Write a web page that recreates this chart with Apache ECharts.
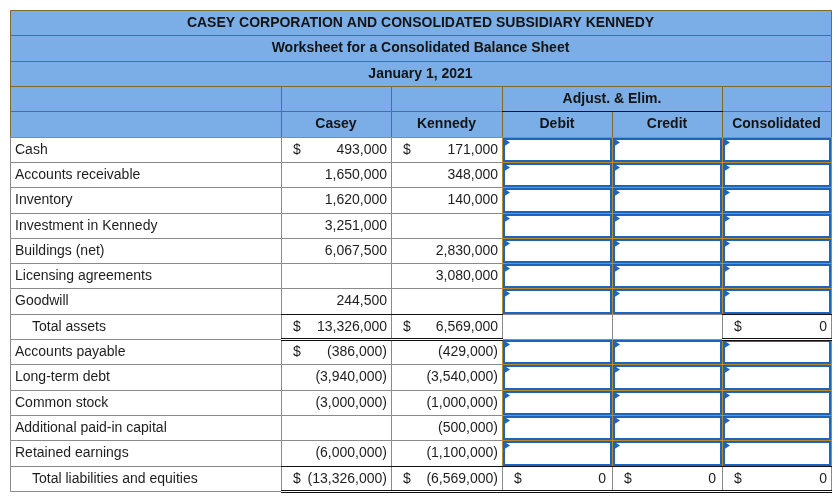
<!DOCTYPE html>
<html><head><meta charset="utf-8">
<script src="https://cdn.jsdelivr.net/npm/echarts@6/dist/echarts.min.js"></script>
<style>html,body{margin:0;padding:0;background:#fff}#c{width:838px;height:501px}</style>
</head><body><div id="c"></div>
<script>
// ---------- data ----------
const titleLines = ['CASEY CORPORATION AND CONSOLIDATED SUBSIDIARY KENNEDY', 'Worksheet for a Consolidated Balance Sheet', 'January 1, 2021'];
const groupHeader = 'Adjust. & Elim.';
const columnHeaders = ['Casey', 'Kennedy', 'Debit', 'Credit', 'Consolidated'];
const accounts = ['Cash', 'Accounts receivable', 'Inventory', 'Investment in Kennedy', 'Buildings (net)', 'Licensing agreements', 'Goodwill', 'Total assets', 'Accounts payable', 'Long-term debt', 'Common stock', 'Additional paid-in capital', 'Retained earnings', 'Total liabilities and equities'];
const totalRows = [0, 0, 0, 0, 0, 0, 0, 1, 0, 0, 0, 0, 0, 1];
const caseyValues = [493000, 1650000, 1620000, 3251000, 6067500, null, 244500, 13326000, -386000, -3940000, -3000000, null, -6000000, -13326000];
const kennedyValues = [171000, 348000, 140000, null, 2830000, 3080000, null, 6569000, -429000, -3540000, -1000000, -500000, -1100000, -6569000];
const caseyDollar = [1, 0, 0, 0, 0, 0, 0, 1, 1, 0, 0, 0, 0, 1];
const kennedyDollar = [1, 0, 0, 0, 0, 0, 0, 1, 0, 0, 0, 0, 0, 1];
const debitTotals = [null, null, null, null, null, null, null, null, null, null, null, null, null, 0];
const creditTotals = [null, null, null, null, null, null, null, null, null, null, null, null, null, 0];
const consolidatedTotals = [null, null, null, null, null, null, null, 0, null, null, null, null, null, 0];

// ---------- layout ----------
const colEdges = [0, 271, 381, 492, 602, 712, 821];
const headerRowCount = 5;
const rowCount = headerRowCount + accounts.length;

const C = {
  headBg: '#7BAEE6', headLine: '#7F6A2A', grid: '#8A8A8A', gold: '#B8892A',
  blue: '#1C64BE', text: '#1E1E1E', headText: '#141414'
};
const FONT = '14px "Liberation Sans", Arial, sans-serif';
const BFONT = 'bold 14px "Liberation Sans", Arial, sans-serif';

function fmt(v) {
  if (v === null || v === undefined) return '';
  const s = Math.abs(v).toLocaleString('en-US');
  return v < 0 ? '(' + s + ')' : s;
}

const cells = [];
function add(c0, c1, r, kind, opt) { cells.push(Object.assign({ c0, c1, r, kind }, opt || {})); }

titleLines.forEach((t, i) => add(0, 6, i, 'head', { center: t }));
add(0, 1, 3, 'head'); add(1, 2, 3, 'head'); add(2, 3, 3, 'head');
add(3, 5, 3, 'head', { center: groupHeader }); add(5, 6, 3, 'head');
add(0, 1, 4, 'head');
columnHeaders.forEach((h, i) => add(i + 1, i + 2, 4, 'head', { center: h }));

const adjCols = [debitTotals, creditTotals, consolidatedTotals];
accounts.forEach((a, i) => {
  const r = headerRowCount + i;
  const tot = totalRows[i] === 1;
  add(0, 1, r, 'data', { left: a, indent: tot ? 22 : 5 });
  add(1, 2, r, 'data', { right: fmt(caseyValues[i]), dollar: caseyDollar[i] === 1 });
  add(2, 3, r, 'data', { right: fmt(kennedyValues[i]), dollar: kennedyDollar[i] === 1 });
  adjCols.forEach((arr, k) => {
    if (tot) add(3 + k, 4 + k, r, 'data', arr[i] === null ? {} : { right: fmt(arr[i]), dollar: true, pad: k === 2 ? 4 : 6 });
    else add(3 + k, 4 + k, r, 'input');
  });
});

// overlay lines (black rule above totals, double rule below)
const overlays = [];
overlays.push({ type: 'single', c0: 3, c1: 5, y: 4 });
accounts.forEach((a, i) => {
  if (totalRows[i] !== 1) return;
  const r = headerRowCount + i;
  const vals = [caseyValues[i], kennedyValues[i], debitTotals[i], creditTotals[i], consolidatedTotals[i]];
  vals.forEach((v, k) => {
    if (v === null) return;
    overlays.push({ type: 'single', c0: k + 1, c1: k + 2, y: r });
    overlays.push({ type: 'double', c0: k + 1, c1: k + 2, y: r + 1 });
  });
});

function P(api, x, y) { const p = api.coord([x, y]); return [Math.round(p[0]), Math.round(p[1])]; }

function renderCell(params, api) {
  const c = cells[params.dataIndex];
  const a = P(api, colEdges[c.c0], c.r), b = P(api, colEdges[c.c1], c.r + 1);
  const x0 = a[0], y0 = a[1], x1 = b[0], y1 = b[1], w = x1 - x0, h = y1 - y0;
  const cy = (y0 + y1) / 2 + 0.5;
  const ch = [];
  if (c.kind === 'head') {
    ch.push({ type: 'rect', shape: { x: x0 + 0.5, y: y0 + 0.5, width: w, height: h }, style: { fill: C.headBg, stroke: C.headLine, lineWidth: 1 } });
    if (c.center) ch.push({ type: 'text', style: { x: (x0 + x1) / 2, y: cy, text: c.center, font: BFONT, fill: C.headText, align: 'center', verticalAlign: 'middle' } });
  } else if (c.kind === 'data') {
    ch.push({ type: 'rect', shape: { x: x0 + 0.5, y: y0 + 0.5, width: w, height: h }, style: { fill: '#fff', stroke: C.grid, lineWidth: 1 } });
    if (c.left) ch.push({ type: 'text', style: { x: x0 + c.indent, y: cy, text: c.left, font: FONT, fill: C.text, align: 'left', verticalAlign: 'middle' } });
    if (c.right) ch.push({ type: 'text', style: { x: x1 - (c.pad || 4), y: cy, text: c.right, font: FONT, fill: C.text, align: 'right', verticalAlign: 'middle' } });
    if (c.dollar) ch.push({ type: 'text', style: { x: x0 + 12, y: cy, text: '$', font: FONT, fill: C.text, align: 'left', verticalAlign: 'middle' } });
  } else {
    ch.push({ type: 'rect', shape: { x: x0 + 0.5, y: y0 + 0.5, width: w, height: h }, style: { fill: '#fff', stroke: C.gold, lineWidth: 1 } });
    ch.push({ type: 'rect', shape: { x: x0 + 2, y: y0 + 2, width: w - 3, height: h - 3 }, style: { fill: 'none', stroke: C.blue, lineWidth: 2 } });
    ch.push({ type: 'polygon', shape: { points: [[x0 + 1, y0 + 1], [x0 + 8, y0 + 5.5], [x0 + 1, y0 + 10]] }, style: { fill: C.blue } });
  }
  return { type: 'group', children: ch };
}

function renderOverlay(params, api) {
  const o = overlays[params.dataIndex];
  const a = P(api, colEdges[o.c0], o.y), b = P(api, colEdges[o.c1], o.y);
  const ch = [];
  if (o.type === 'single') {
    ch.push({ type: 'line', shape: { x1: a[0], y1: a[1] + 0.5, x2: b[0] + 1, y2: a[1] + 0.5 }, style: { stroke: '#111', lineWidth: 1 } });
  } else {
    ch.push({ type: 'rect', shape: { x: a[0], y: a[1] - 1, width: b[0] - a[0] + 1, height: 3 }, style: { fill: '#fff' } });
    ch.push({ type: 'line', shape: { x1: a[0], y1: a[1] - 0.5, x2: b[0] + 1, y2: a[1] - 0.5 }, style: { stroke: '#111', lineWidth: 1 } });
    ch.push({ type: 'line', shape: { x1: a[0], y1: a[1] + 1.5, x2: b[0] + 1, y2: a[1] + 1.5 }, style: { stroke: '#111', lineWidth: 1 } });
  }
  return { type: 'group', children: ch };
}

const chart = echarts.init(document.getElementById('c'), null, { renderer: 'canvas' });
chart.setOption({
  animation: false,
  grid: { left: 10, right: 7, top: 10, bottom: 10 },
  xAxis: { type: 'value', min: 0, max: colEdges[colEdges.length - 1], show: false },
  yAxis: { type: 'value', min: 0, max: rowCount, inverse: true, show: false },
  series: [
    { type: 'custom', silent: true, clip: false, renderItem: renderCell, data: cells.map(c => [colEdges[c.c0], c.r]), z: 2 },
    { type: 'custom', silent: true, clip: false, renderItem: renderOverlay, data: overlays.map(o => [colEdges[o.c0], o.y]), z: 3 }
  ]
});
</script>
</body></html>
